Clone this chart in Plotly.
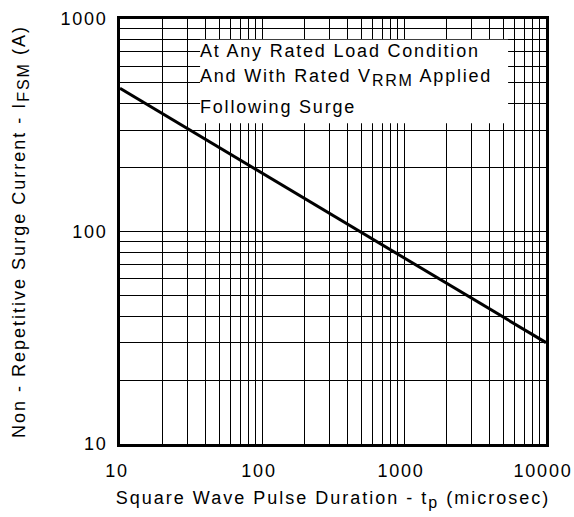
import plotly.graph_objects as go

# data
pulse_us = [10, 10000]
surge_a = [472, 30]

x_major = [10, 100, 1000, 10000]
x_labels = ["10", "100", "1000", "10000"]
x_minor = [m * d for d in (10, 100, 1000) for m in range(2, 10)]
y_major = [10, 100, 1000]
y_labels = ["10", "100", "1000"]
y_minor = [m * d for d in (10, 100) for m in range(2, 10)]

SUB = '<sub><span style="font-size:16px">{}</span></sub>'
note_lines = [
    "At Any Rated Load Condition",
    "And With Rated V" + SUB.format("RRM") + " Applied",
    "Following Surge",
]
x_title = "Square Wave Pulse Duration - t" + SUB.format("p") + " (microsec)"
y_title = "Non - Repetitive Surge Current - I" + SUB.format("FSM") + " (A)"

FONT = "Liberation Sans, Arial, sans-serif"
FS = 18

fig = go.Figure()
fig.add_trace(go.Scatter(x=pulse_us, y=surge_a, mode="lines",
                         line=dict(color="black", width=3), showlegend=False,
                         hoverinfo="skip"))

axis_common = dict(
    showline=True, linecolor="black", linewidth=2.5, mirror=True,
    showgrid=True, gridcolor="black", gridwidth=1,
    ticks="", zeroline=False, automargin=False,
    ticklabeloverflow="allow",
    tickfont=dict(family=FONT, size=FS, color="black"),
)

fig.update_xaxes(type="log", range=[1, 4], tickvals=x_major, ticktext=x_labels,
                 minor=dict(tickvals=x_minor, showgrid=True, gridcolor="black", gridwidth=1),
                 ticklabelstandoff=9, ticklabelshift=-3,
                 title=dict(text=x_title,
                            font=dict(family=FONT, size=FS, color="black"), standoff=12),
                 **axis_common)
fig.update_yaxes(type="log", range=[1, 3], tickvals=y_major, ticktext=y_labels,
                 minor=dict(tickvals=y_minor, showgrid=True, gridcolor="black", gridwidth=1),
                 ticklabelstandoff=6,
                 title=dict(text=y_title,
                            font=dict(family=FONT, size=FS, color="black"), standoff=38),
                 **axis_common)

# white panel behind the note (covers grid lines)
fig.add_shape(type="rect", xref="paper", yref="paper",
              x0=0.188, x1=0.911, y0=0.755, y1=0.951,
              fillcolor="white", line=dict(width=0), layer="above")

for txt, yp in zip(note_lines, [0.9247, 0.8612, 0.7929]):
    fig.add_annotation(
        xref="paper", yref="paper", x=0.183, y=yp, xanchor="left", yanchor="middle",
        text=txt, showarrow=False, align="left",
        font=dict(family=FONT, size=FS, color="black"),
    )

fig.update_layout(
    width=574, height=517,
    margin=dict(l=120, r=28, t=19, b=73, autoexpand=False),
    paper_bgcolor="white", plot_bgcolor="white",
)

post = """
document.body.style.margin='0';
document.body.style.padding='0';
var gd = document.getElementById('{plot_id}');
function ls(){
  gd.querySelectorAll('text').forEach(function(t){ t.style.letterSpacing='1.8px'; });
  gd.querySelectorAll('.g-xtitle text, .g-ytitle text').forEach(function(t){ t.style.letterSpacing='2.0px'; });
}
ls(); if (gd.on) { gd.on('plotly_afterplot', ls); } setTimeout(ls, 50);
"""
fig.write_html("out.html", post_script=post, config={"displayModeBar": False})
